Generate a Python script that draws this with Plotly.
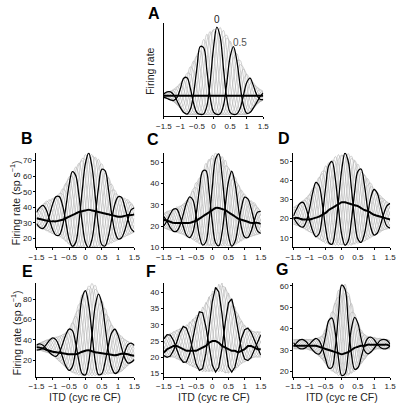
import numpy as np
import plotly.graph_objects as go

# ---------------- data ----------------
itd = [-1.5, -1.4, -1.3, -1.2, -1.1, -1.0, -0.9, -0.8, -0.7, -0.6, -0.5, -0.4, -0.3, -0.2, -0.1,
       0.0, 0.1, 0.2, 0.3, 0.4, 0.5, 0.6, 0.7, 0.8, 0.9, 1.0, 1.1, 1.2, 1.3, 1.4, 1.5]

xtick_vals = [-1.5, -1, -0.5, 0, 0.5, 1, 1.5]
xtick_text = ["\u22121.5", "\u22121", "\u22120.5", "0", "0.5", "1", "1.5"]

# interaural phase steps (cycles); 0 and 0.5 are drawn black
phases = [0, 1/12, 2/12, 3/12, 4/12, 5/12, 6/12, 7/12, 8/12, 9/12, 10/12, 11/12]
black_idx = (0, 6)

upper_A = [25, 26, 27, 29, 32, 36, 41, 46, 53, 60, 67, 75, 82, 88, 92, 95, 96, 95, 92, 88, 82, 75, 67, 60, 53, 46, 41, 36, 32, 29, 27]
lower_A = [20, 19, 17.5, 15.5, 12.5, 8.5, 4, 2, 2, 2, 2, 2, 2, 2, 2, 2, 2, 2, 2, 2, 2, 2, 2, 2, 2, 2, 4, 8.5, 12.5, 15.5, 17.5]
mean_A = [22] * 31

upper_B = [39, 40, 42, 44, 45, 46, 47, 49, 52, 56, 60, 63, 66, 69, 72, 74, 75, 74.5, 73, 71, 68, 64, 60, 55, 51, 48, 47, 46, 45, 43, 40]
lower_B = [28, 27, 26, 25, 24, 23, 22, 21, 20, 18, 16, 15, 14, 14, 14, 14, 14, 14, 14, 14, 14, 15, 16, 17, 18, 19, 20, 21, 22, 23, 24]
mean_B = [33, 32.5, 32, 31.5, 31, 31, 31, 31.5, 32, 33, 34, 35, 36, 37, 37.5, 38, 38.5, 38, 37.5, 37, 36.5, 36, 35.5, 35, 34.5, 34, 34, 34.5, 35, 35, 35.5]

upper_C = [26, 27, 27.5, 28, 29, 29.5, 30.5, 32, 34, 37.5, 40.5, 43, 46, 49.5, 52, 53.5, 54.5, 54.5, 53, 51, 48, 46, 43, 40, 37, 35, 33, 32, 31, 29, 27]
lower_C = [19, 18.5, 18, 17.5, 17, 16.5, 16, 15, 14.5, 13.5, 12.5, 11.5, 11, 10.5, 10.5, 10.5, 10.5, 10.5, 10.5, 10.5, 10.5, 10.5, 11, 12, 13, 14, 14.5, 15, 15.5, 16, 16.5]
mean_C = [23, 22.5, 22, 21.5, 21.5, 21.5, 21.5, 21.5, 21.5, 22, 22.5, 23.5, 24.5, 25.5, 26.5, 27.5, 28.5, 28.5, 28, 27.5, 26.5, 25.5, 24.5, 23.5, 23, 22.5, 22, 21.5, 21.5, 21.5, 21]

upper_D = [26, 27, 28, 29.5, 31, 33, 36, 39, 42, 45, 47.5, 49.5, 51, 52.5, 53.5, 54, 54.5, 54, 53, 51, 48.5, 46, 43.5, 41, 38.5, 36, 34, 32, 30.5, 29, 28]
lower_D = [17, 16.5, 16, 15, 14, 13, 12, 10.5, 9, 8, 7, 6.5, 6, 6, 6, 6, 6, 6, 6, 6.5, 7, 7.5, 8, 9, 10, 11, 12, 13, 14, 14.5, 15]
mean_D = [20, 20.5, 20, 19.5, 19.5, 19.5, 20, 20.5, 21, 22, 23, 24.5, 25.5, 26.5, 27.5, 28.5, 28.5, 28, 27.5, 27, 26.5, 25.5, 24.5, 24, 23, 22, 21.5, 21, 20.5, 20, 19.5]

upper_E = [35, 37, 38.5, 40, 41, 42, 43, 44, 45.5, 47.5, 51, 58, 66, 75, 85, 90, 93.5, 95.5, 94, 87, 79, 71, 63, 56, 51, 47, 44, 41, 39, 37, 36]
lower_E = [30, 30, 29, 28, 27, 25, 22, 19, 16, 13, 10, 8, 6.5, 5.5, 5, 5, 5, 5, 5, 5, 5.5, 6, 6.5, 7, 7, 7.5, 9, 12, 15, 18, 20]
mean_E = [33, 32.5, 31.5, 30.5, 29.5, 28.5, 28, 27.5, 27, 26.5, 26, 26, 26, 27, 28.5, 29.5, 30, 29, 28, 27.5, 27, 26.5, 26, 25.5, 25, 25.5, 26.5, 26.5, 26, 25, 24.5]

upper_F = [26.5, 27, 27.5, 28, 28.5, 29, 29.5, 30, 31, 32, 33, 34, 35.5, 37, 39, 40.5, 41.5, 42.5, 43, 42, 40, 38, 35.5, 33.5, 31.5, 30, 29, 28.5, 28, 28, 28]
lower_F = [20, 20, 20, 20, 19.5, 19, 18.5, 18, 17.5, 17, 16.5, 16, 15.5, 15.5, 15.5, 15.5, 15.5, 15.5, 15.5, 15, 15, 15.5, 16, 17, 18, 18.5, 19, 19.5, 20, 20, 20]
mean_F = [21.5, 22.5, 23, 23.5, 23.5, 23, 22.5, 22, 22, 22, 22, 22.5, 23, 23.5, 24.5, 25, 25, 24.5, 23.5, 23, 22.5, 22, 22, 21.5, 22, 22.5, 23.5, 23.5, 23, 22.5, 22.5]

upper_G = [35, 35, 35, 35, 35, 35, 35, 35.5, 36, 37, 40, 44, 48, 53, 58, 61.5, 61, 57, 52, 47, 43, 39.5, 37.5, 36.5, 36, 36, 35.5, 35.5, 35, 35, 34.5]
lower_G = [30.5, 30.5, 30.5, 30.5, 30.5, 30, 29.5, 28.5, 27, 25.5, 23.5, 21.5, 20, 19, 18, 17.5, 17.5, 18, 19, 20, 21.5, 23.5, 25.5, 27.5, 29, 30, 30.5, 30.5, 30.5, 30.5, 30.5]
mean_G = [32, 32, 32, 32, 32, 32, 32, 32, 31.5, 31, 30.5, 30, 29.5, 29, 28.5, 28, 28.5, 29, 30, 31, 31.5, 32, 32, 32.5, 32.5, 32.5, 32.5, 32.5, 32.5, 32.5, 32]

# best delay (cycles) and period of the ITD oscillation, per panel
best_delay = {"A": 0.12, "B": 0.09, "C": 0.17, "D": 0.12, "E": -0.04, "F": 0.11, "G": 0.04}
period = {"A": 1.0, "B": 0.97, "C": 0.9, "D": 0.93, "E": 0.97, "F": 1.0, "G": 0.85}

yticks = {
    "A": [],
    "B": [20, 30, 40, 50, 60, 70],
    "C": [10, 20, 30, 40, 50],
    "D": [10, 20, 30, 40, 50],
    "E": [20, 40, 60, 80],
    "F": [15, 20, 25, 30, 35, 40],
    "G": [20, 30, 40, 50, 60],
}

# ---------------- layout / style ----------------
W, H = 400, 408
def px(x):
    return x / W
def py(y):
    return 1 - y / H

layout_cfg = {
    "A": dict(xd=(161.5, 264.5), yd=(22, 117), yr=[0, 100], p=1.8, shape="spline"),
    "B": dict(xd=(29.5, 131), yd=(154, 250), yr=[14.3, 75.1], p=1.15, shape="spline"),
    "C": dict(xd=(161.5, 262), yd=(154, 250), yr=[10, 54.5], p=1.15, shape="spline"),
    "D": dict(xd=(295.7, 396), yd=(154, 250), yr=[5, 54.4], p=1.15, shape="spline"),
    "E": dict(xd=(29.5, 131), yd=(286, 381.5), yr=[3.8, 96.1], p=1.15, shape="spline"),
    "F": dict(xd=(161.5, 262), yd=(286, 381.5), yr=[14, 42.9], p=1.15, shape="linear"),
    "G": dict(xd=(295.7, 396), yd=(286, 381.5), yr=[17.4, 61.5], p=1.15, shape="spline"),
}
data = {
    "A": (upper_A, lower_A, mean_A), "B": (upper_B, lower_B, mean_B),
    "C": (upper_C, lower_C, mean_C), "D": (upper_D, lower_D, mean_D),
    "E": (upper_E, lower_E, mean_E), "F": (upper_F, lower_F, mean_F),
    "G": (upper_G, lower_G, mean_G),
}

FONT = "Liberation Sans, Arial, sans-serif"
GREY = "#b0b0b0"

fig = go.Figure()
x = np.array(itd)
for i, key in enumerate(["A", "B", "C", "D", "E", "F", "G"]):
    n = "" if i == 0 else str(i + 1)
    cfg = layout_cfg[key]
    up, lo, mn = data[key]
    u = np.array(up, float)
    l = np.array(lo, float)
    T = period[key]
    bd = best_delay[key]
    curves = []
    for ph in phases:
        c = np.cos(2 * np.pi * (x - bd - ph * T) / T)
        curves.append(l + (u - l) * ((1 + c) / 2) ** cfg["p"])
    for k, yv in enumerate(curves):
        if k in black_idx:
            continue
        fig.add_trace(go.Scatter(x=itd, y=yv, mode="lines", xaxis="x" + n, yaxis="y" + n,
                                 line=dict(color=GREY, width=0.6, shape=cfg["shape"]),
                                 hoverinfo="skip", showlegend=False))
    for k in black_idx:
        fig.add_trace(go.Scatter(x=itd, y=curves[k], mode="lines", xaxis="x" + n, yaxis="y" + n,
                                 line=dict(color="black", width=1.3, shape=cfg["shape"]),
                                 hoverinfo="skip", showlegend=False))
    fig.add_trace(go.Scatter(x=itd, y=mn, mode="lines", xaxis="x" + n, yaxis="y" + n,
                             line=dict(color="black", width=2.0, shape=cfg["shape"]),
                             hoverinfo="skip", showlegend=False))

    xa = dict(domain=[px(cfg["xd"][0]), px(cfg["xd"][1])], anchor="y" + n, range=[-1.5, 1.5],
              showline=True, linecolor="black", linewidth=1, ticks="outside", ticklen=2,
              tickcolor="black", tickwidth=1, tickvals=xtick_vals, ticktext=xtick_text,
              tickfont=dict(family=FONT, size=8, color="#222"), showgrid=False, zeroline=False,
              fixedrange=True)
    ya = dict(domain=[py(cfg["yd"][1]), py(cfg["yd"][0])], anchor="x" + n, range=cfg["yr"],
              showline=True, linecolor="black", linewidth=1,
              ticks="outside" if yticks[key] else "", ticklen=2, tickcolor="black", tickwidth=1,
              tickvals=yticks[key] if yticks[key] else None, showticklabels=bool(yticks[key]),
              tickfont=dict(family=FONT, size=8, color="#222"), showgrid=False, zeroline=False,
              fixedrange=True)
    fig.layout["xaxis" + n] = xa
    fig.layout["yaxis" + n] = ya

annotations = []
panel_labels = {"A": (151, 13), "B": (20, 140), "C": (150.5, 141), "D": (286, 140),
                "E": (20, 275), "F": (148, 275), "G": (284, 273)}
for lab, (lx, ly) in panel_labels.items():
    annotations.append(dict(text="<b>" + lab + "</b>", x=px(lx), y=py(ly), xref="paper", yref="paper",
                            showarrow=False, xanchor="center", yanchor="middle",
                            font=dict(family=FONT, size=16, color="black")))
annotations.append(dict(text="Firing rate", x=px(147), y=py(71), xref="paper", yref="paper",
                        showarrow=False, textangle=-90, xanchor="center", yanchor="middle",
                        font=dict(family=FONT, size=10.5, color="#222")))
for yy in (205, 337):
    annotations.append(dict(text="Firing rate (sp s<sup>\u22121</sup>)", x=px(7.5), y=py(yy),
                            xref="paper", yref="paper", showarrow=False, textangle=-90,
                            xanchor="center", yanchor="middle",
                            font=dict(family=FONT, size=10.5, color="#222")))
for xx in (80, 213, 346.5):
    annotations.append(dict(text="ITD (cyc re CF)", x=px(xx), y=py(402), xref="paper", yref="paper",
                            showarrow=False, xanchor="center", yanchor="middle",
                            font=dict(family=FONT, size=10.5, color="#222")))
annotations.append(dict(text="0", x=px(217), y=py(19), xref="paper", yref="paper", showarrow=False,
                        xanchor="center", yanchor="middle", font=dict(family=FONT, size=10, color="#222")))
annotations.append(dict(text="0.5", x=px(240), y=py(42), xref="paper", yref="paper", showarrow=False,
                        xanchor="center", yanchor="middle", font=dict(family=FONT, size=10, color="#555")))

fig.update_layout(width=W, height=H, autosize=False, margin=dict(l=0, r=0, t=0, b=0),
                  paper_bgcolor="white", plot_bgcolor="white", showlegend=False,
                  annotations=annotations, font=dict(family=FONT))

fig.write_html("out.html", config={"displayModeBar": False, "staticPlot": True},
               post_script="document.body.style.margin='0px';document.body.style.padding='0px';"
                           "document.body.style.overflow='hidden';")
